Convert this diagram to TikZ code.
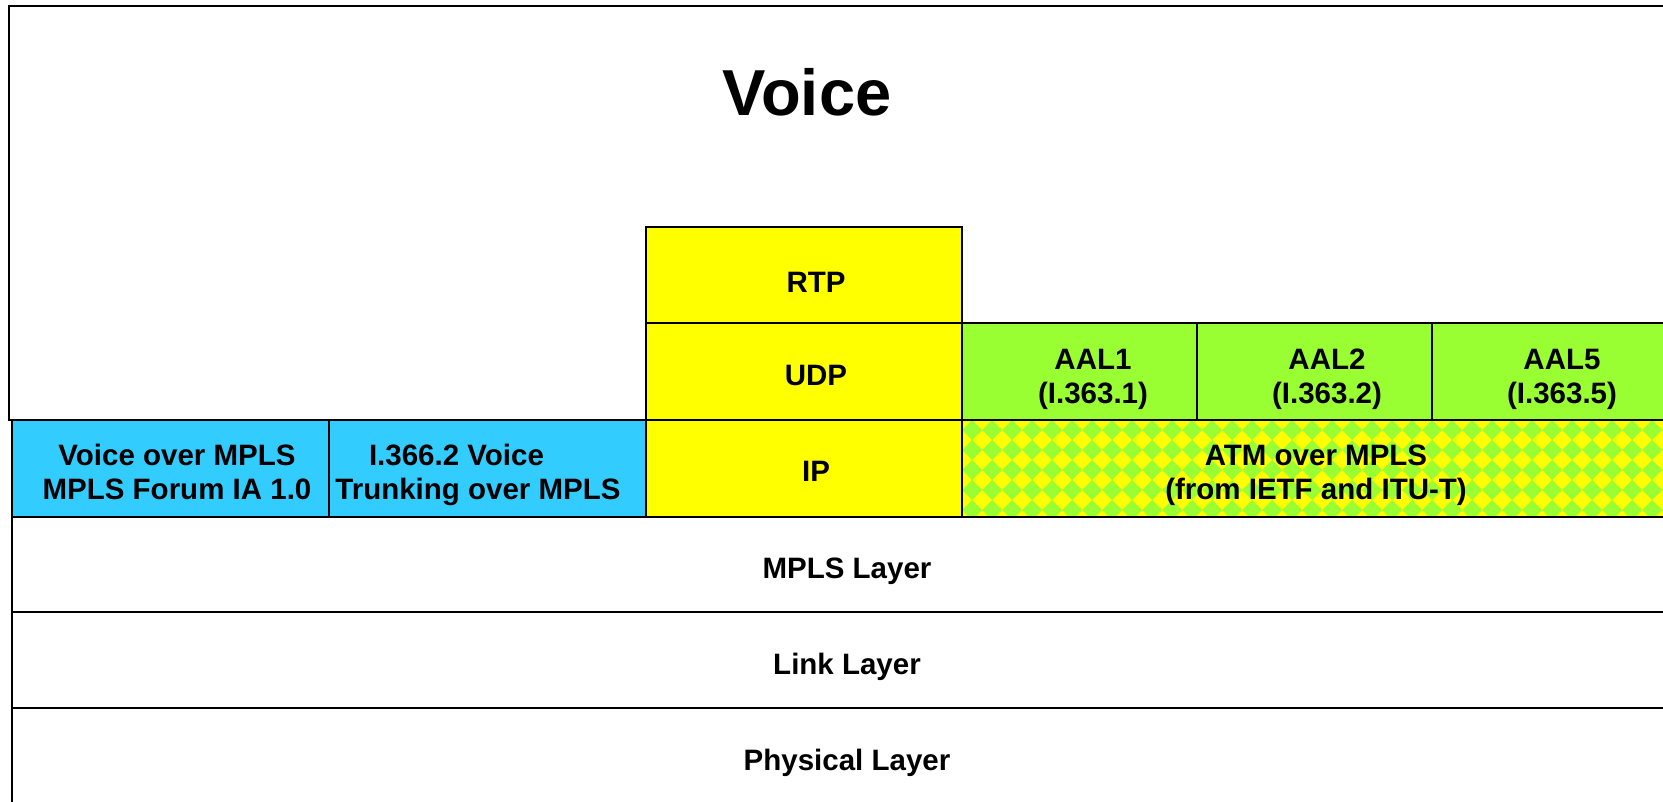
\documentclass[tikz,border=0pt]{standalone}
\usepackage{fontspec}
\setmainfont{Liberation Sans}
\usepackage{xcolor}
\usepackage{tikz}
\definecolor{voiceblue}{RGB}{51,204,255}
\definecolor{ipyellow}{RGB}{255,255,0}
\definecolor{atmgreen}{RGB}{153,255,51}

\tikzset{
  frame/.style={draw=black, line width=1.4pt},
  lbl/.style={font=\fontsize{29.5}{34}\selectfont\bfseries, inner sep=0pt, text height=21pt, text depth=0pt},
  lbltwo/.style={lbl, align=center, text height=55pt}
}

\begin{document}
\begin{tikzpicture}[x=1pt,y=-1pt]
  \clip (0,0) rectangle (1663,801);
  \fill[white] (0,0) rectangle (1663,801);

  % Voice area
  \draw[frame] (9,6) rectangle (1700,420);
  \node[inner sep=0pt, font=\fontsize{65}{70}\selectfont\bfseries, text height=46.5pt, text depth=0pt] (voice) at (807,92) {Voice};

  % Voice over MPLS boxes
  \draw[frame, fill=voiceblue] (12,420) rectangle (329,517);
  \draw[frame, fill=voiceblue] (329,420) rectangle (646,517);
  \node[lbltwo] (vompls) at (177,472) {Voice over MPLS\\MPLS Forum IA 1.0};
  \node[lbltwo] (trunk) at (478,472) {I.366.2 Voice\hspace*{43pt}\\Trunking over MPLS};

  % IP stack
  \draw[frame, fill=ipyellow] (646,227) rectangle (962,323);
  \draw[frame, fill=ipyellow] (646,323) rectangle (962,420);
  \draw[frame, fill=ipyellow] (646,420) rectangle (962,517);
  \node[lbl] (rtp) at (816,282) {RTP};
  \node[lbl] (udp) at (816,375) {UDP};
  \node[lbl] (ip) at (816,471) {IP};

  % AAL
  \draw[frame, fill=atmgreen] (962,323) rectangle (1197,420);
  \draw[frame, fill=atmgreen] (1197,323) rectangle (1432,420);
  \draw[frame, fill=atmgreen] (1432,323) rectangle (1667,420);
  \node[lbltwo] (aal1) at (1093,376) {AAL1\\(I.363.1)};
  \node[lbltwo] (aal2) at (1327,376) {AAL2\\(I.363.2)};
  \node[lbltwo] (aal5) at (1562,376) {AAL5\\(I.363.5)};

  % ATM over MPLS (checkered)
  \begin{scope}
    \clip (962,420) rectangle (1700,517);
    \fill[ipyellow] (962,420) rectangle (1700,517);
    \foreach \i in {-1,...,36}
      \foreach \j in {-1,...,5}
        \fill[atmgreen] (972+20*\i,430+20*\j) +(-10,0) -- +(0,-10) -- +(10,0) -- +(0,10) -- cycle;
  \end{scope}
  \draw[frame] (962,420) rectangle (1700,517);
  \node[lbltwo] (atm) at (1316,472) {ATM over MPLS\\(from IETF and ITU-T)};

  % Lower layers
  \draw[frame] (12,517) rectangle (1700,612);
  \draw[frame] (12,612) rectangle (1700,708);
  \draw[frame] (12,708) rectangle (1700,820);
  \node[lbl] (mpls) at (847,568) {MPLS Layer};
  \node[lbl] (link) at (847,664) {Link Layer};
  \node[lbl] (phys) at (847,760) {Physical Layer};
\end{tikzpicture}
\end{document}
